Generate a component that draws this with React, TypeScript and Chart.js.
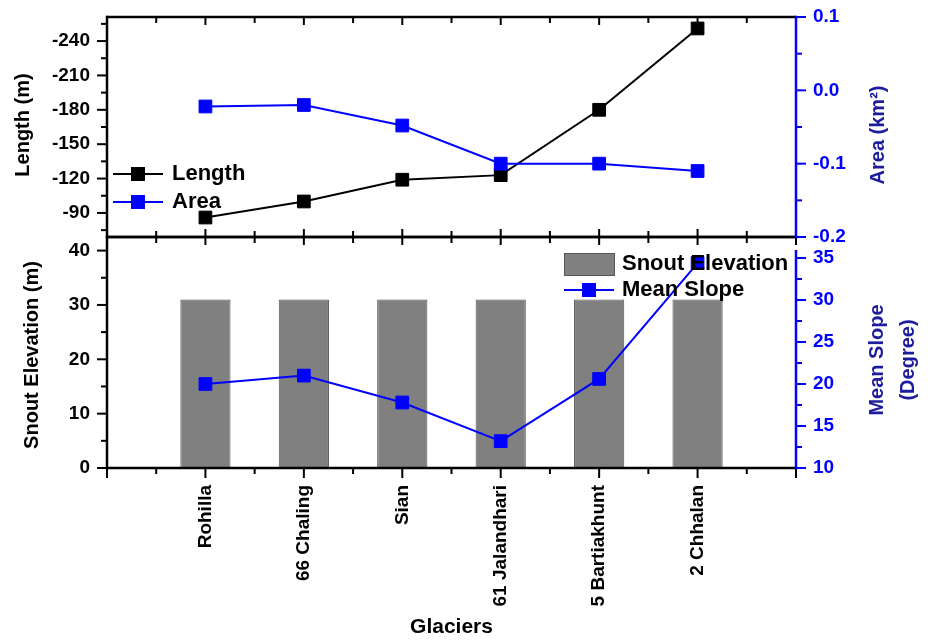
import React, { useEffect, useRef } from 'react';
import { Chart, registerables } from 'chart.js';

Chart.register(...registerables);

// ---- data ----
const glaciers = ['Rohilla', '66 Chaling', 'Sian', '61 Jalandhari', '5 Bartiakhunt', '2 Chhalan'];
const glacierPositions = [1, 2, 3, 4, 5, 6];
const lengthValues = [-86, -100, -119, -123, -180, -251];
const areaValues = [-0.022, -0.02, -0.048, -0.1, -0.1, -0.11];
const snoutElevationValues = [31, 31, 31, 31, 31, 31];
const meanSlopeValues = [20, 21, 17.8, 13.2, 20.6, 34.4];

// ---- ticks ----
const xMajorTicks = [0, 1, 2, 3, 4, 5, 6, 7];
const xMinorTicks = [0.5, 1.5, 2.5, 3.5, 4.5, 5.5, 6.5];
const lengthTicks = [-240, -210, -180, -150, -120, -90];
const lengthMinorTicks = [-255, -225, -195, -165, -135, -105, -75];
const areaTicks = [0.1, 0.0, -0.1, -0.2];
const areaMinorTicks = [0.05, -0.05, -0.15];
const snoutTicks = [0, 10, 20, 30, 40];
const snoutMinorTicks = [5, 15, 25, 35];
const slopeTicks = [10, 15, 20, 25, 30, 35];
const slopeMinorTicks = [12.5, 17.5, 22.5, 27.5, 32.5];

const FONT = "'Liberation Sans', Arial, Helvetica, sans-serif";
const BLUE = '#0000FF';
const NAVY = '#1c1c9c';
const GRAY = '#808080';

function seg(ctx: CanvasRenderingContext2D, x1: number, y1: number, x2: number, y2: number, color: string, w: number) {
  ctx.beginPath();
  ctx.strokeStyle = color;
  ctx.lineWidth = w;
  ctx.moveTo(x1, y1);
  ctx.lineTo(x2, y2);
  ctx.stroke();
}

function vText(ctx: CanvasRenderingContext2D, text: string, x: number, y: number, size: number, color: string) {
  ctx.save();
  ctx.translate(x, y);
  ctx.rotate(-Math.PI / 2);
  ctx.font = `bold ${size}px ${FONT}`;
  ctx.fillStyle = color;
  ctx.textAlign = 'center';
  ctx.textBaseline = 'middle';
  ctx.fillText(text, 0, 0);
  ctx.restore();
}

function hText(ctx: CanvasRenderingContext2D, text: string, x: number, y: number, size: number, color: string) {
  ctx.font = `bold ${size}px ${FONT}`;
  ctx.fillStyle = color;
  ctx.textAlign = 'left';
  ctx.textBaseline = 'middle';
  ctx.fillText(text, x, y);
}

function legendLineItem(ctx: CanvasRenderingContext2D, x1: number, x2: number, y: number, color: string) {
  seg(ctx, x1, y, x2, y, color, 2);
  const cx = (x1 + x2) / 2;
  ctx.fillStyle = color;
  ctx.fillRect(cx - 7, y - 7, 14, 14);
}

const tickFont = { family: FONT, weight: 'bold' as const, size: 19 };

function fixWidth(w: number) {
  return (s: any) => {
    s.width = w;
    s.paddingTop = 0;
    s.paddingBottom = 0;
    s.paddingLeft = 0;
    s.paddingRight = 0;
  };
}

const topDecor = {
  id: 'topDecor',
  afterDraw(chart: any) {
    const ctx: CanvasRenderingContext2D = chart.ctx;
    const { left, right, top, bottom } = chart.chartArea;
    const xs = chart.scales.x;
    const yl = chart.scales.yLen;
    const yr = chart.scales.yArea;
    ctx.save();
    ctx.lineCap = 'butt';
    xMajorTicks.forEach((v) => {
      const px = xs.getPixelForValue(v);
      seg(ctx, px, top, px, top + 8, '#000', 2);
      seg(ctx, px, bottom, px, bottom - 8, '#000', 2);
    });
    xMinorTicks.forEach((v) => {
      const px = xs.getPixelForValue(v);
      seg(ctx, px, top, px, top + 6, '#000', 2);
      seg(ctx, px, bottom, px, bottom - 6, '#000', 2);
    });
    lengthTicks.forEach((v) => {
      const py = yl.getPixelForValue(v);
      seg(ctx, left - 10, py, left, py, '#000', 2);
    });
    lengthMinorTicks.forEach((v) => {
      const py = yl.getPixelForValue(v);
      seg(ctx, left - 6, py, left, py, '#000', 2);
    });
    areaTicks.forEach((v) => {
      const py = yr.getPixelForValue(v);
      seg(ctx, right, py, right + 10, py, BLUE, 2);
    });
    areaMinorTicks.forEach((v) => {
      const py = yr.getPixelForValue(v);
      seg(ctx, right, py, right + 6, py, BLUE, 2);
    });
    seg(ctx, left, top, right, top, '#000', 2.5);
    seg(ctx, left, bottom, right, bottom, '#000', 2.5);
    seg(ctx, left, top - 1.25, left, bottom + 1.25, '#000', 2.5);
    seg(ctx, right, top - 1.25, right, bottom + 1.25, BLUE, 2.5);

    vText(ctx, 'Length (m)', 23, 125, 20, '#000');
    vText(ctx, 'Area (km²)', 878, 135, 20, NAVY);

    legendLineItem(ctx, 113, 163, 174, '#000');
    hText(ctx, 'Length', 172, 174, 22, '#000');
    legendLineItem(ctx, 113, 163, 202, BLUE);
    hText(ctx, 'Area', 172, 202, 22, '#000');
    ctx.restore();
  },
};

const bottomDecor = {
  id: 'bottomDecor',
  afterDraw(chart: any) {
    const ctx: CanvasRenderingContext2D = chart.ctx;
    const { left, right, top, bottom } = chart.chartArea;
    const xs = chart.scales.x;
    const yl = chart.scales.ySnout;
    const yr = chart.scales.ySlope;
    ctx.save();
    ctx.lineCap = 'butt';
    xMajorTicks.forEach((v) => {
      const px = xs.getPixelForValue(v);
      seg(ctx, px, top, px, top + 8, '#000', 2);
      seg(ctx, px, bottom, px, bottom + 10, '#000', 2);
    });
    xMinorTicks.forEach((v) => {
      const px = xs.getPixelForValue(v);
      seg(ctx, px, top, px, top + 6, '#000', 2);
      seg(ctx, px, bottom, px, bottom + 6, '#000', 2);
    });
    snoutTicks.forEach((v) => {
      const py = yl.getPixelForValue(v);
      seg(ctx, left - 10, py, left, py, '#000', 2);
    });
    snoutMinorTicks.forEach((v) => {
      const py = yl.getPixelForValue(v);
      seg(ctx, left - 6, py, left, py, '#000', 2);
    });
    slopeTicks.forEach((v) => {
      const py = yr.getPixelForValue(v);
      seg(ctx, right, py, right + 10, py, BLUE, 2);
    });
    slopeMinorTicks.forEach((v) => {
      const py = yr.getPixelForValue(v);
      seg(ctx, right, py, right + 6, py, BLUE, 2);
    });
    seg(ctx, left, top, right, top, '#000', 2.5);
    seg(ctx, left - 1.25, bottom, right + 1.25, bottom, '#000', 2.5);
    seg(ctx, left, top - 1.25, left, bottom + 1.25, '#000', 2.5);
    seg(ctx, right, top + 13, right, bottom + 1.25, BLUE, 2.5);

    vText(ctx, 'Snout Elevation (m)', 32, 355, 20, '#000');
    vText(ctx, 'Mean Slope', 877, 360, 20, NAVY);
    vText(ctx, '(Degree)', 908, 360, 20, NAVY);

    ctx.fillStyle = GRAY;
    ctx.fillRect(564, 253, 50, 22);
    ctx.strokeStyle = '#555';
    ctx.lineWidth = 1;
    ctx.strokeRect(564.5, 253.5, 50, 22);
    hText(ctx, 'Snout Elevation', 622, 264, 22, '#000');
    legendLineItem(ctx, 564, 614, 290, BLUE);
    hText(ctx, 'Mean Slope', 622, 290, 22, '#000');
    ctx.restore();
  },
};

export default function App() {
  const topRef = useRef<HTMLCanvasElement | null>(null);
  const bottomRef = useRef<HTMLCanvasElement | null>(null);

  useEffect(() => {
    const topChart = new Chart(topRef.current as HTMLCanvasElement, {
      type: 'line',
      data: {
        datasets: [
          {
            label: 'Length',
            data: glacierPositions.map((x, i) => ({ x, y: lengthValues[i] })),
            yAxisID: 'yLen',
            borderColor: '#000',
            backgroundColor: '#000',
            pointBackgroundColor: '#000',
            pointBorderColor: '#000',
            pointStyle: 'rect',
            pointRadius: 9,
            pointBorderWidth: 1,
            borderWidth: 2,
            tension: 0,
            order: 2,
          },
          {
            label: 'Area',
            data: glacierPositions.map((x, i) => ({ x, y: areaValues[i] })),
            yAxisID: 'yArea',
            borderColor: BLUE,
            backgroundColor: BLUE,
            pointBackgroundColor: BLUE,
            pointBorderColor: BLUE,
            pointStyle: 'rect',
            pointRadius: 9,
            pointBorderWidth: 1,
            borderWidth: 2,
            tension: 0,
            order: 1,
          },
        ],
      },
      options: {
        responsive: false,
        animation: false,
        devicePixelRatio: 1,
        layout: { padding: { top: 17, bottom: 403, left: 0, right: 0 } },
        plugins: { legend: { display: false }, tooltip: { enabled: false } },
        scales: {
          x: { type: 'linear', min: 0, max: 7, display: false },
          yLen: {
            type: 'linear',
            position: 'left',
            min: -261,
            max: -69,
            reverse: true,
            grid: { display: false, drawTicks: false },
            border: { display: false },
            ticks: { color: '#000', font: tickFont, padding: 17 },
            afterBuildTicks: (s: any) => { s.ticks = lengthTicks.map((v) => ({ value: v })); },
            afterFit: fixWidth(107),
          },
          yArea: {
            type: 'linear',
            position: 'right',
            min: -0.2,
            max: 0.1,
            grid: { display: false, drawTicks: false },
            border: { display: false },
            ticks: { color: BLUE, font: tickFont, padding: 17, callback: (v: any) => Number(v).toFixed(1) },
            afterBuildTicks: (s: any) => { s.ticks = areaTicks.map((v) => ({ value: v })); },
            afterFit: fixWidth(132),
          },
        },
      } as any,
      plugins: [topDecor],
    });

    const bottomChart = new Chart(bottomRef.current as HTMLCanvasElement, {
      type: 'line',
      data: {
        datasets: [
          {
            type: 'bar',
            label: 'Snout Elevation',
            data: glacierPositions.map((x, i) => ({ x, y: snoutElevationValues[i] })),
            yAxisID: 'ySnout',
            backgroundColor: GRAY,
            borderColor: '#555',
            borderWidth: 1,
            borderSkipped: false,
            categoryPercentage: 1,
            barPercentage: 0.51,
            order: 2,
          } as any,
          {
            type: 'line',
            label: 'Mean Slope',
            data: glacierPositions.map((x, i) => ({ x, y: meanSlopeValues[i] })),
            yAxisID: 'ySlope',
            borderColor: BLUE,
            backgroundColor: BLUE,
            pointBackgroundColor: BLUE,
            pointBorderColor: BLUE,
            pointStyle: 'rect',
            pointRadius: 9,
            pointBorderWidth: 1,
            borderWidth: 2,
            tension: 0,
            order: 1,
          },
        ],
      },
      options: {
        responsive: false,
        animation: false,
        devicePixelRatio: 1,
        layout: { padding: { top: 237, bottom: 0, left: 0, right: 0 } },
        plugins: { legend: { display: false }, tooltip: { enabled: false } },
        scales: {
          x: {
            type: 'linear',
            min: 0,
            max: 7,
            offset: false,
            grid: { display: false, drawTicks: false, offset: false },
            border: { display: false },
            ticks: {
              color: '#000',
              font: tickFont,
              padding: 17,
              minRotation: 90,
              maxRotation: 90,
              autoSkip: false,
              callback: (v: any) => {
                const i = glacierPositions.indexOf(Number(v));
                return i >= 0 ? glaciers[i] : '';
              },
            },
            title: {
              display: true,
              text: 'Glaciers',
              color: '#000',
              font: { family: FONT, weight: 'bold', size: 21 },
              padding: { top: 0, bottom: 0 },
            },
            afterBuildTicks: (s: any) => { s.ticks = glacierPositions.map((v) => ({ value: v })); },
            afterFit: (s: any) => {
              s.height = 172;
              s.paddingLeft = 0;
              s.paddingRight = 0;
              s.paddingTop = 0;
              s.paddingBottom = 0;
            },
          },
          ySnout: {
            type: 'linear',
            position: 'left',
            min: 0,
            max: 42.5,
            grid: { display: false, drawTicks: false },
            border: { display: false },
            ticks: { color: '#000', font: tickFont, padding: 17 },
            afterBuildTicks: (s: any) => { s.ticks = snoutTicks.map((v) => ({ value: v })); },
            afterFit: fixWidth(107),
          },
          ySlope: {
            type: 'linear',
            position: 'right',
            min: 10,
            max: 37.5,
            grid: { display: false, drawTicks: false },
            border: { display: false },
            ticks: { color: BLUE, font: tickFont, padding: 17 },
            afterBuildTicks: (s: any) => { s.ticks = slopeTicks.map((v) => ({ value: v })); },
            afterFit: fixWidth(132),
          },
        },
      } as any,
      plugins: [bottomDecor],
    });

    return () => {
      topChart.destroy();
      bottomChart.destroy();
    };
  }, []);

  const canvasStyle: React.CSSProperties = { position: 'absolute', left: 0, top: 0, width: 928, height: 640 };
  return (
    <div style={{ position: 'absolute', left: 0, top: 0, width: 928, height: 640, background: '#fff' }}>
      <canvas ref={bottomRef} width={928} height={640} style={canvasStyle} />
      <canvas ref={topRef} width={928} height={640} style={canvasStyle} />
    </div>
  );
}
